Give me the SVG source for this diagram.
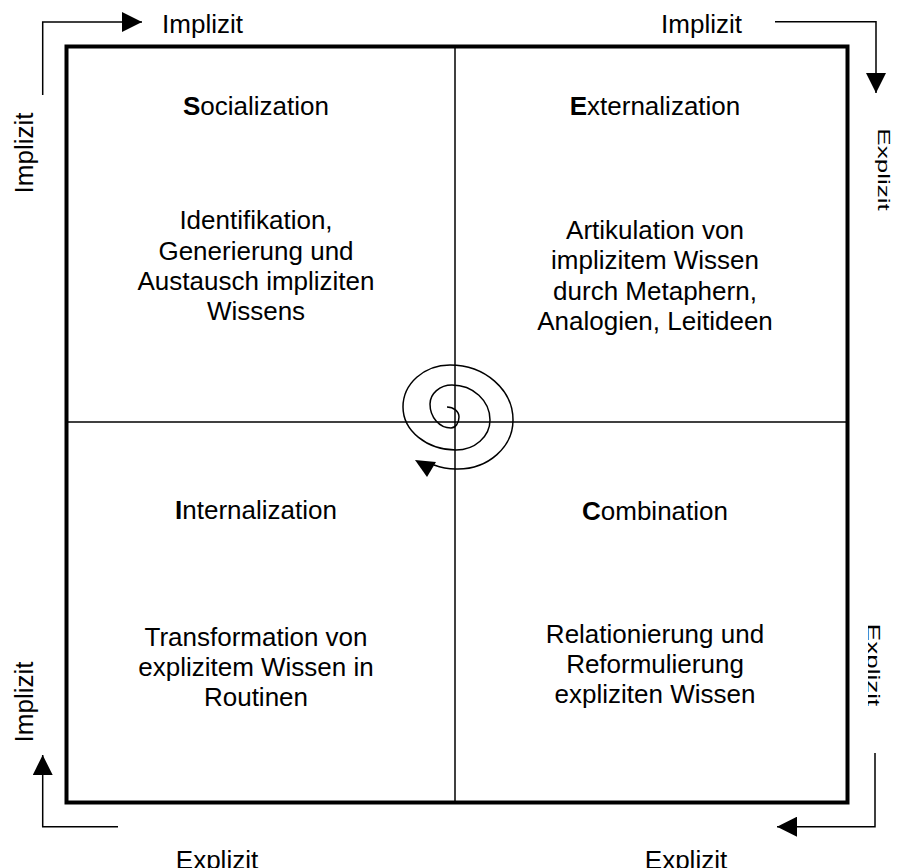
<svg xmlns="http://www.w3.org/2000/svg" width="901" height="868" viewBox="0 0 901 868">
<style>
text{font-family:"Liberation Sans",Arial,sans-serif;font-size:26px;fill:#000}
.c{text-anchor:middle}
.b{font-weight:bold}
.ln{fill:none;stroke:#000;stroke-width:1.5}
</style>
<defs>
<marker id="ah" markerUnits="userSpaceOnUse" markerWidth="20" markerHeight="20" refX="20" refY="10" orient="auto">
<path d="M0,0 L20,10 L0,20 z" fill="#000"/>
</marker>
<clipPath id="clipBR"><rect x="868" y="600" width="14" height="130"/></clipPath>
</defs>
<rect x="0" y="0" width="901" height="868" fill="#fff"/>
<g id="frame">
<rect x="66.5" y="46.5" width="781" height="756" fill="none" stroke="#000" stroke-width="4"/>
<line x1="455" y1="46.5" x2="455" y2="802.5" stroke="#000" stroke-width="1.5"/>
<line x1="66.5" y1="422" x2="847.5" y2="422" stroke="#000" stroke-width="1.5"/>
</g>
<g id="socialization">
<text class="c" x="256" y="115"><tspan class="b">S</tspan>ocialization</text>
<text class="c" x="256" y="229">Identifikation,</text>
<text class="c" x="256" y="259.5">Generierung und</text>
<text class="c" x="256" y="290">Austausch impliziten</text>
<text class="c" x="256" y="320">Wissens</text>
</g>
<g id="externalization">
<text class="c" x="655" y="115"><tspan class="b">E</tspan>xternalization</text>
<text class="c" x="655" y="239">Artikulation von</text>
<text class="c" x="655" y="269">implizitem Wissen</text>
<text class="c" x="655" y="299.5">durch Metaphern,</text>
<text class="c" x="655" y="329.5">Analogien, Leitideen</text>
</g>
<g id="internalization">
<text class="c" x="256" y="518.5"><tspan class="b">I</tspan>nternalization</text>
<text class="c" x="256" y="646">Transformation von</text>
<text class="c" x="256" y="676">explizitem Wissen in</text>
<text class="c" x="256" y="706">Routinen</text>
</g>
<g id="combination">
<text class="c" x="655" y="519.5"><tspan class="b">C</tspan>ombination</text>
<text class="c" x="655" y="643">Relationierung und</text>
<text class="c" x="655" y="673">Reformulierung</text>
<text class="c" x="655" y="703">expliziten Wissen</text>
</g>
<g id="axis-labels">
<text class="c" x="202.5" y="33">Implizit</text>
<text class="c" x="701.5" y="33">Implizit</text>
<text class="c" x="217" y="869">Explizit</text>
<text class="c" x="686" y="869">Explizit</text>
<text class="c" transform="translate(33,153) rotate(-90)">Implizit</text>
<text class="c" transform="translate(33,702) rotate(-90)">Implizit</text>
<text class="c" transform="translate(878,169.5) rotate(90) scale(1,0.65)">Explizit</text>
<g clip-path="url(#clipBR)"><text class="c" transform="translate(867,665) rotate(90) scale(1,0.7)">Explizit</text></g>
</g>
<g id="connectors">
<path class="ln" d="M42.7,95 V22 H142" marker-end="url(#ah)"/>
<path class="ln" d="M775,21.7 H876 V93" marker-end="url(#ah)"/>
<path class="ln" d="M875,753 V826.7 H777" marker-end="url(#ah)"/>
<path class="ln" d="M118,826.7 H42.7 V755" marker-end="url(#ah)"/>
</g>
<g id="spiral">
<path class="ln" d="M447,407 A12,10 0 0 1 459,417 A8,11 0 0 1 451,428 A21,24 0 0 1 430,404 A22,19 0 0 1 452,385 A38,35 0 0 1 490,420 A34,30 0 0 1 456,450 A53,43 0 0 1 403,407 A47,42 0 0 1 450,365 A63,55 0 0 1 513,420 A55,49 0 0 1 458,469 A55,49 0 0 1 434,465"/>
<polygon points="415,460 436,462 427,477" fill="#000"/>
</g>
</svg>
